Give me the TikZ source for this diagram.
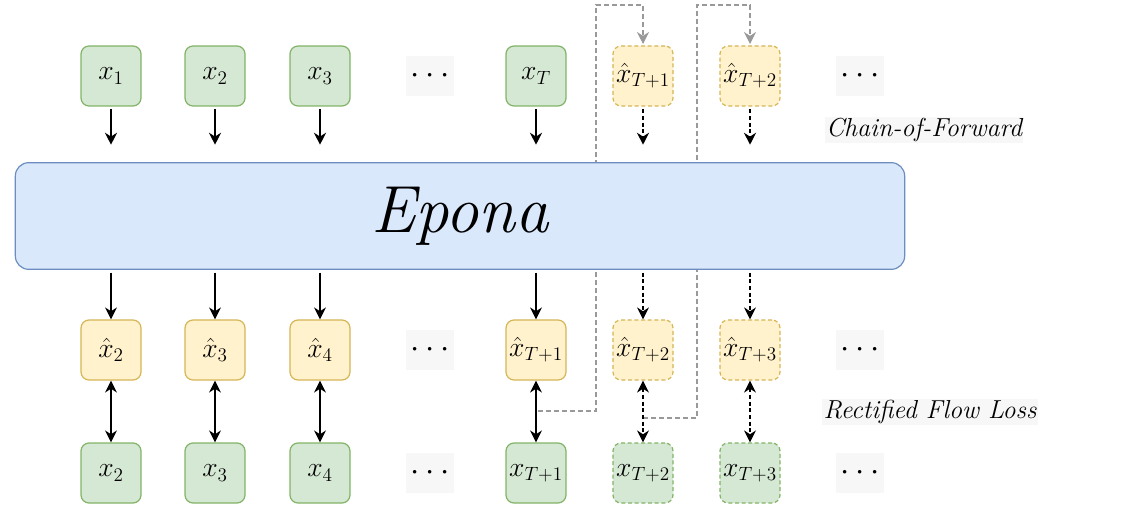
\documentclass[tikz,border=0pt]{standalone}
\usetikzlibrary{arrows.meta}
\definecolor{gfill}{HTML}{D5E8D4}
\definecolor{gline}{HTML}{82B366}
\definecolor{yfill}{HTML}{FFF2CC}
\definecolor{yline}{HTML}{D6B656}
\definecolor{bfill}{HTML}{DAE8FC}
\definecolor{bline}{HTML}{6C8EBF}
\tikzset{
  tok/.style={rectangle,rounded corners=6pt,minimum width=45pt,minimum height=45pt,line width=0.9pt,inner sep=0pt,font=\fontsize{21}{24}\selectfont},
  real/.style={tok,fill=gfill,draw=gline},
  pred/.style={tok,fill=yfill,draw=yline},
  fut/.style={dash pattern=on 3pt off 2pt},
  dots/.style={fill=black!3,minimum width=36pt,minimum height=30pt,inner sep=0pt,font=\fontsize{24}{26}\selectfont},
  tag/.style={fill=black!3,inner sep=1pt,font=\fontsize{19.5}{22}\selectfont\itshape},
  arr/.style={-{Stealth[length=9pt,width=9pt]},line width=1.1pt},
  darr/.style={{Stealth[length=9pt,width=9pt]}-{Stealth[length=9pt,width=9pt]},line width=1.1pt},
  loop/.style={draw=black!40,line width=0.9pt,dash pattern=on 3.5pt off 2.5pt}
}
\begin{document}
\begin{tikzpicture}[x=0.75pt,y=-0.75pt]
	\useasboundingbox (0,0) rectangle (1121,520);
	%feedback
	\coordinate (a1) at (538,411);
	\coordinate (a2) at (643,418);
	\draw[loop,-{Stealth[length=9pt,width=9pt]}] (a1) -- (596,411) -- (596,5) -- (643,5) -- (643,44);
	\draw[loop,-{Stealth[length=9pt,width=9pt]}] (a2) -- (697,418) -- (697,5) -- (750,5) -- (750,44);
	%model
	\node[rectangle,rounded corners=10pt,fill=bfill,draw=bline,line width=0.9pt,minimum width=667pt,minimum height=80pt,font=\fontsize{50}{54}\selectfont\itshape] (epona) at (460,216) {Epona};
	%input row
	\node[real] (in1) at (111,76) {$x_1$};
	\node[real] (in2) at (215,76) {$x_2$};
	\node[real] (in3) at (320,76) {$x_3$};
	\node[dots] (ind) at (430,76) {$\cdots$};
	\node[real] (in4) at (536,76) {$x_T$};
	\node[pred,fut] (in5) at (643,76) {$\hat{x}_{T+1}$};
	\node[pred,fut] (in6) at (750,76) {$\hat{x}_{T+2}$};
	\node[dots] (in7) at (860,76) {$\cdots$};
	%prediction row
	\node[pred] (pr1) at (111,350) {$\hat{x}_2$};
	\node[pred] (pr2) at (215,350) {$\hat{x}_3$};
	\node[pred] (pr3) at (320,350) {$\hat{x}_4$};
	\node[dots] (prd) at (430,350) {$\cdots$};
	\node[pred] (pr4) at (536,350) {$\hat{x}_{T+1}$};
	\node[pred,fut] (pr5) at (643,350) {$\hat{x}_{T+2}$};
	\node[pred,fut] (pr6) at (750,350) {$\hat{x}_{T+3}$};
	\node[dots] (pr7) at (860,350) {$\cdots$};
	%target row
	\node[real] (gt1) at (111,473) {$x_2$};
	\node[real] (gt2) at (215,473) {$x_3$};
	\node[real] (gt3) at (320,473) {$x_4$};
	\node[dots] (gtd) at (430,473) {$\cdots$};
	\node[real] (gt4) at (536,473) {$x_{T+1}$};
	\node[real,fut] (gt5) at (643,473) {$x_{T+2}$};
	\node[real,fut] (gt6) at (750,473) {$x_{T+3}$};
	\node[dots] (gt7) at (860,473) {$\cdots$};
	%labels
	\node[tag] (cof) at (924,130) {Chain-of-Forward};
	\node[tag] (rfl) at (930,412) {Rectified Flow Loss};
	%arrows
	\foreach \i in {1,...,4}{
		\draw[arr] ([yshift=-2pt]in\i.south) -- ([yshift=13pt]in\i.south |- epona.north);
		\draw[arr] ([yshift=-2pt]in\i.south |- epona.south) -- (pr\i.north);
		\draw[darr] (pr\i.south) -- (gt\i.north);
	}
	\foreach \i in {5,6}{
		\draw[arr,fut] ([yshift=-2pt]in\i.south) -- ([yshift=13pt]in\i.south |- epona.north);
		\draw[arr,fut] ([yshift=-2pt]in\i.south |- epona.south) -- (pr\i.north);
		\draw[darr,fut] (pr\i.south) -- (gt\i.north);
	}
\end{tikzpicture}
\end{document}
